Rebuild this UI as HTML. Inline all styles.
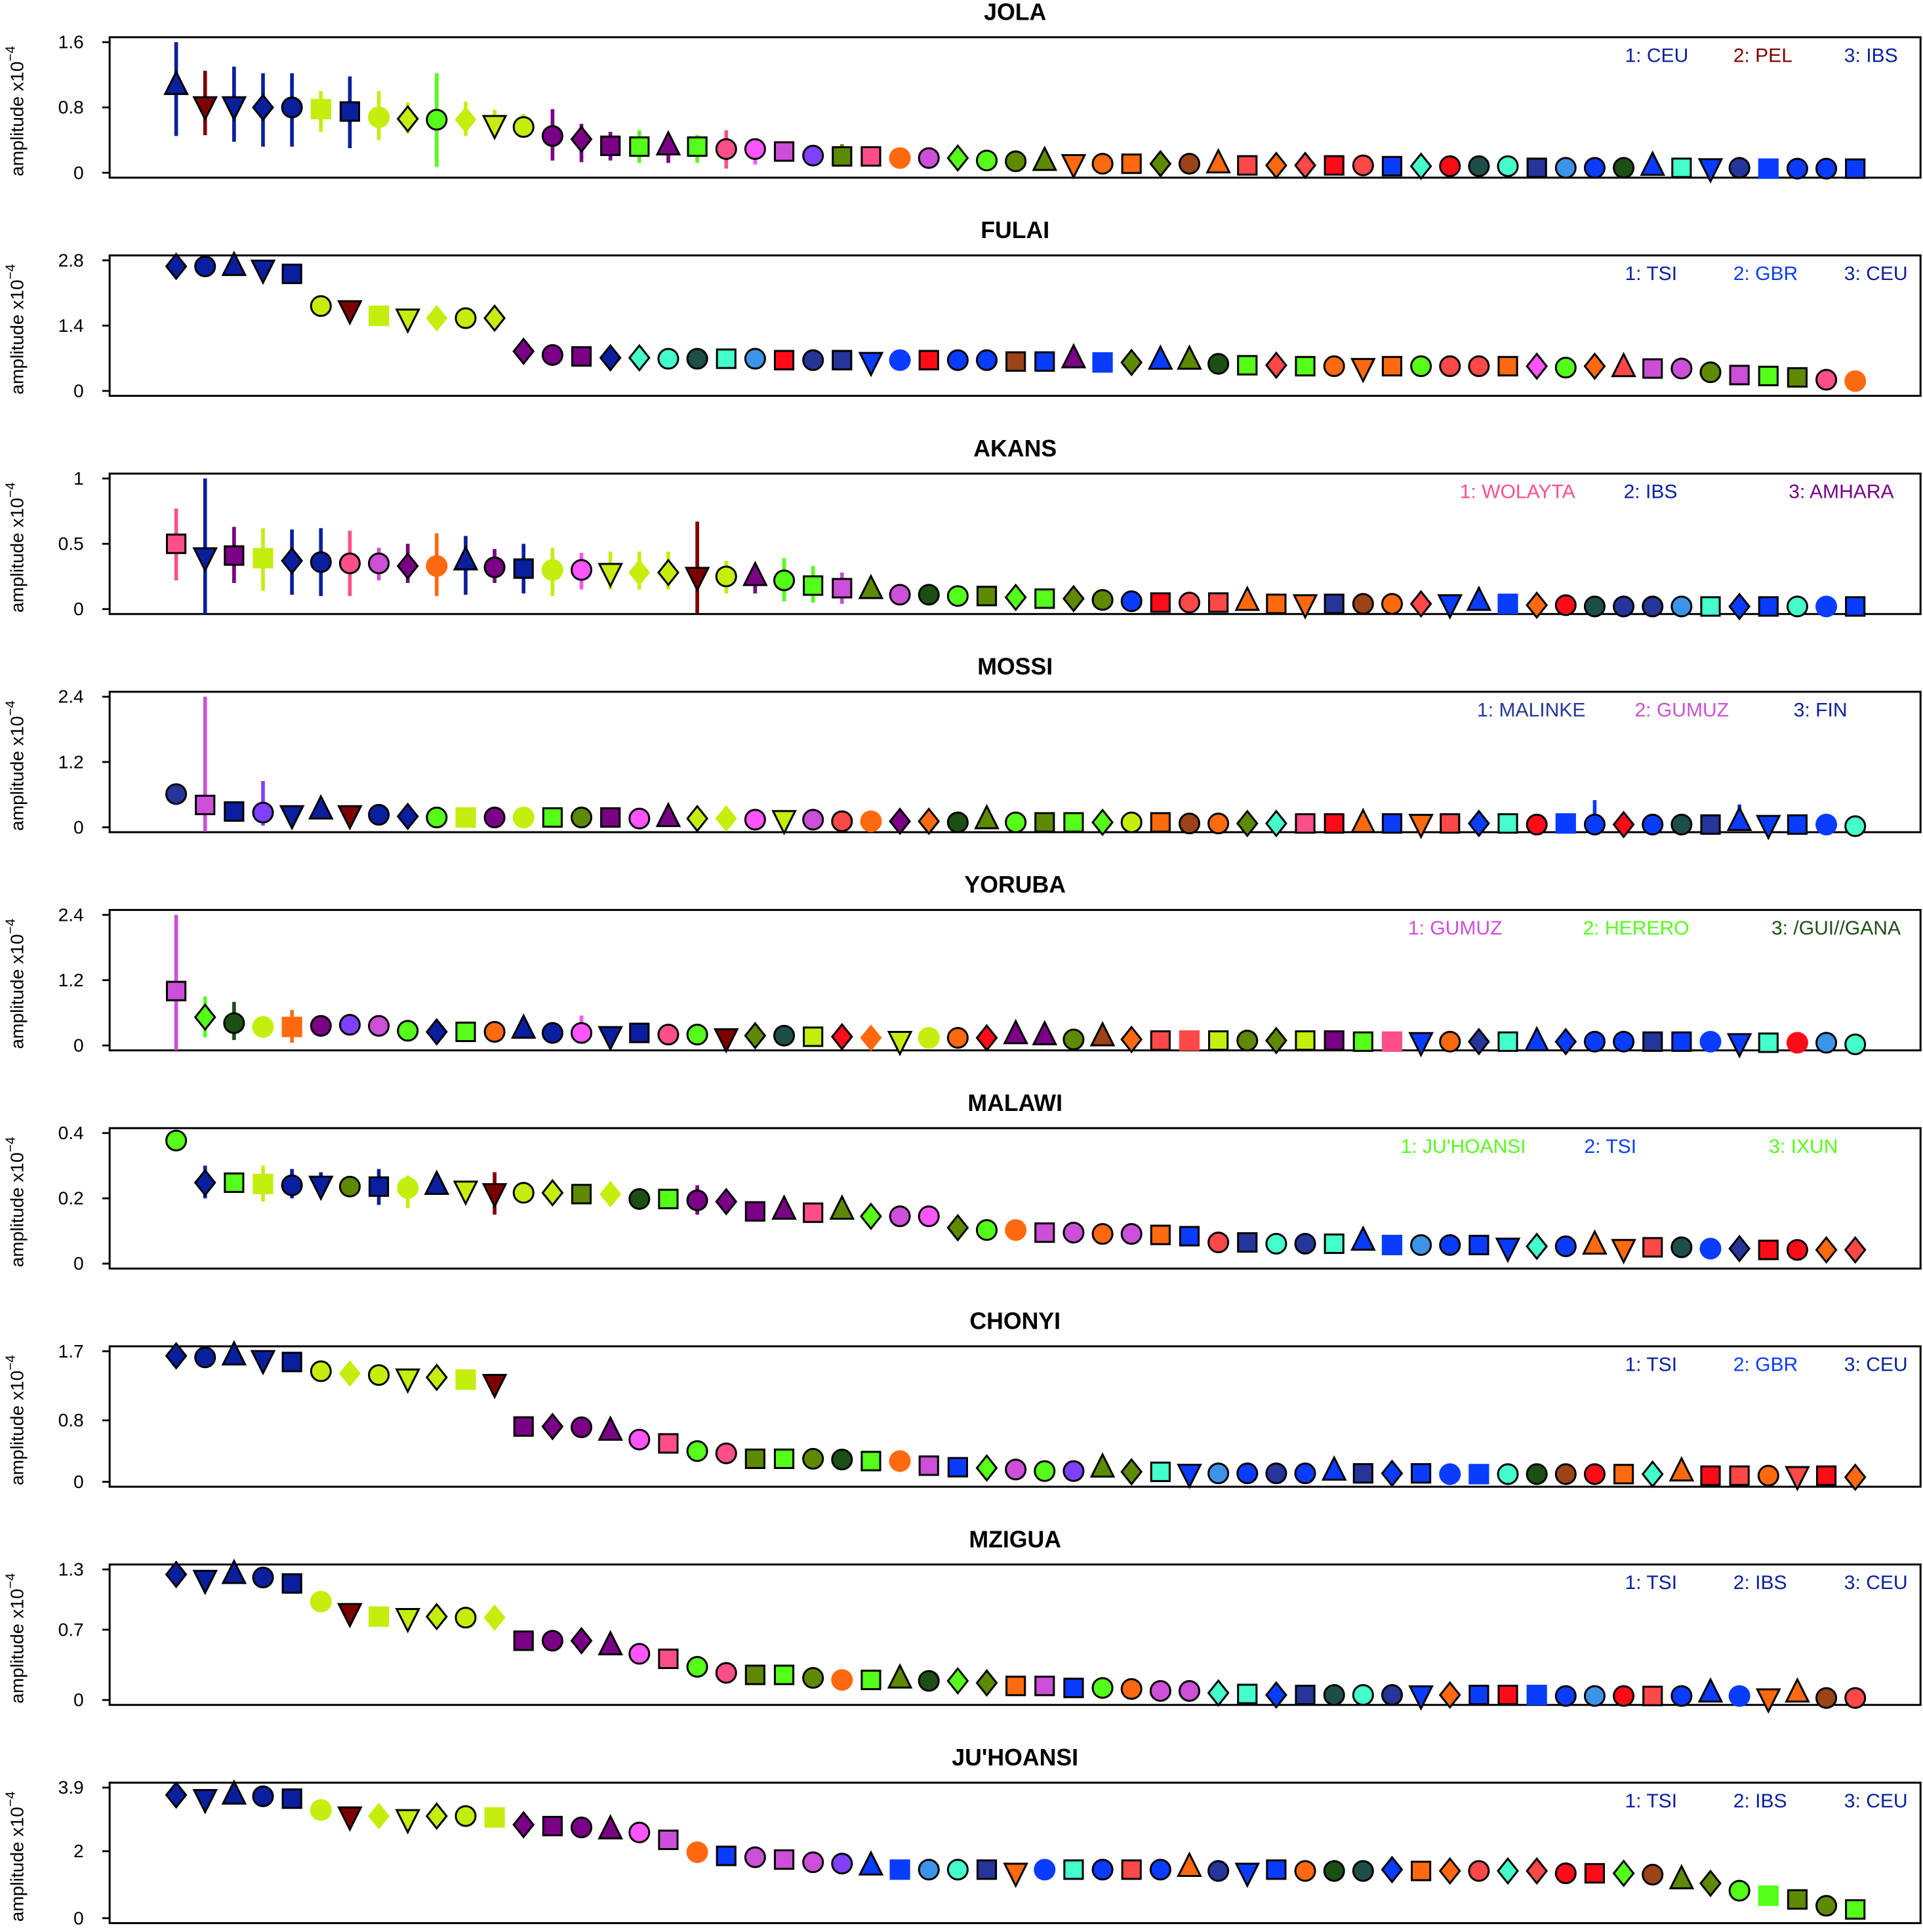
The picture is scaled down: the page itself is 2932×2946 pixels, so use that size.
<!DOCTYPE html>
<html><head><meta charset="utf-8"><style>
html,body{margin:0;padding:0;background:#fff}
svg{display:block}
text{font-family:"Liberation Sans",sans-serif}
</style></head><body>
<svg id="chart" xmlns="http://www.w3.org/2000/svg" width="2932" height="2946" viewBox="0 0 1561 1568"></svg>
<script>
const panelNames=["JOLA","FULAI","AKANS","MOSSI","YORUBA","MALAWI","CHONYI","MZIGUA","JU'HOANSI"];
const panelTicks=[[0,0.8,1.6],[0,1.4,2.8],[0,0.5,1],[0,1.2,2.4],[0,1.2,2.4],[0,0.2,0.4],[0,0.8,1.7],[0,0.7,1.3],[0,2,3.9]];
const legendTexts=[["1: CEU","2: PEL","3: IBS"],["1: TSI","2: GBR","3: CEU"],["1: WOLAYTA","2: IBS","3: AMHARA"],["1: MALINKE","2: GUMUZ","3: FIN"],["1: GUMUZ","2: HERERO","3: /GUI//GANA"],["1: JU'HOANSI","2: TSI","3: IXUN"],["1: TSI","2: GBR","3: CEU"],["1: TSI","2: IBS","3: CEU"],["1: TSI","2: IBS","3: CEU"]];
const legendColors=["NRN","NBN","KNP","IVN","VGH","GBG","NBN","NNN","NNN"];

const jolaVals=[1.07,.82,.82,.80,.80,.78,.75,.68,.66,.65,.65,.59,.56,.45,.41,.33,.32,.33,.32,.29,.29,.26,.21,.2,.2,.18,.18,.18,.15,.14,.14,.11,.11,.11,.11,.11,.11,.09,.09,.09,.09,.09,.08,.08,.08,.08,.08,.06,.06,.06,.06,.08,.06,.06,.06,.05,.05,.05,.05];
const jolaShapes="uvvdcSsCdcDvccdssusccscssCcdccuvcsdcusddscsdcccscccusvcSccs";
const jolaColors="NRNNNYNYYGYYYPPPGPGKMVXOKFVGGOOFFFOWFQFQEQBAEDAILBHBABIBBBB";
const jolaErrLo=[.45,.46,.38,.32,.32,.5,.3,.4,.48,.07,.45,.5,.45,.15,.13,.15,.12,.12,.12,.05,.1,null,.12,.08];
const jolaErrHi=[1.6,1.25,1.3,1.22,1.22,1.0,1.18,1.0,.86,1.22,.87,.77,.72,.78,.6,.5,.52,.45,.46,.52,.42,null,.3,.35];

const fulaiVals=[2.67,2.67,2.67,2.61,2.51,1.82,1.74,1.61,1.56,1.56,1.56,1.56,.85,.77,.74,.71,.71,.69,.69,.69,.69,.66,.66,.66,.63,.66,.66,.66,.66,.63,.63,.69,.61,.61,.66,.66,.58,.55,.55,.53,.53,.5,.53,.53,.53,.53,.53,.53,.5,.53,.5,.48,.48,.4,.34,.32,.29,.24,.21];
const fulaiShapes="dcuvscvSvDcddcsddccscscsvCsccssuSduucsdscvscccsdcdusccssscC";
const fulaiColors="NNNNNYRYYYYYPPPNAADALEIIBBEBBWBPBOBOHGQGFFFGQQFMGFQVVOVGOKF";
const fulaiErrLo=[];const fulaiErrHi=[];

const akansVals=[.5,.4,.41,.39,.37,.36,.35,.35,.33,.33,.37,.32,.31,.3,.3,.28,.28,.28,.25,.25,.25,.22,.18,.16,.15,.11,.11,.1,.1,.09,.08,.08,.07,.06,.05,.05,.05,.06,.04,.04,.04,.04,.04,.04,.04,.06,.04,.03,.03,.02,.02,.02,.02,.02,.02,.02,.02,.02,.02];
const akansShapes="svsSdcccdCucsCcvDdvcucssucccsdsdccscsusvsccdvuSdcccccsdscCs";
const akansColors="KNPYNNKVPFNPNYMYYYRYPGGVOVHGOGGOOBEQQFFFIWFQBBBFEDIILABBABB";
const akansErrLo=[.22,-.04,.2,.14,.11,.1,.1,.22,.2,.1,.11,.2,.12,.1,.15,.15,.15,.15,-.03,.12,.12,.06,.05,.04];
const akansErrHi=[.77,1.0,.63,.62,.61,.62,.6,.47,.5,.58,.56,.46,.5,.47,.43,.44,.44,.44,.67,.37,.34,.39,.33,.28];

const mossiVals=[.61,.41,.29,.27,.23,.32,.23,.23,.2,.18,.18,.18,.18,.18,.18,.18,.16,.18,.16,.16,.14,.14,.14,.11,.11,.11,.11,.09,.14,.09,.09,.09,.09,.09,.09,.07,.07,.07,.07,.07,.07,.07,.07,.07,.07,.07,.07,.05,.07,.05,.05,.05,.05,.05,.11,.05,.05,.05,.02];
const mossiShapes="csscvuvcdcScCscscudDcvccCddcucssdcsccddssusvsdscScdccsuvsCc";
const mossiColors="IVNXNNRNNGYPYGOPMPYYMYVQFPFHOGOGGYFWFOAKEFBFQBAEBBEBDIBBBBA";
const mossiErrLo=[null,-.08,null,.03];mossiErrLo[49]=0;mossiErrLo[54]=0;
const mossiErrHi=[null,2.4,null,.85];mossiErrHi[49]=.5;mossiErrHi[54]=.42;

const yorubaVals=[1.0,.52,.41,.34,.34,.36,.38,.36,.27,.25,.25,.25,.3,.23,.23,.18,.23,.2,.2,.14,.18,.18,.16,.16,.14,.09,.14,.14,.14,.2,.18,.11,.16,.11,.09,.09,.09,.09,.09,.09,.09,.07,.07,.07,.07,.07,.07,.07,.07,.07,.07,.07,.07,.07,.05,.05,.05,.05,.02];
const yorubaShapes="sdcCSccccdscuccvsccvdcsdDvCcduucudsSscdsssSvcdsudccssCvsCcc";
const yorubaColors="VGHYFPXVGNGFNNMNNKGRODYEFYYFEPPOWFQQYOOYPGKBFIABBBBIBBBAELA";
const yorubaErrLo=[-.1,.15,.1,.2,.05,.2];yorubaErrLo[14]=.05;
const yorubaErrHi=[2.4,.9,.8,.5,.65,.5];yorubaErrHi[14]=.55;

const malawiVals=[.377,.248,.248,.244,.24,.24,.236,.236,.232,.24,.225,.217,.217,.217,.213,.213,.198,.198,.194,.19,.16,.164,.156,.164,.145,.145,.145,.11,.103,.103,.095,.095,.091,.091,.088,.084,.065,.065,.061,.061,.061,.069,.057,.057,.057,.057,.05,.053,.053,.057,.046,.05,.05,.046,.046,.042,.042,.042,.042];
const malawiShapes="cdsScvcsCuvvcdsDcscdsusudccdcCscccsscsccsuSccsvdcuvscCdscdd";
const malawiColors="GNGYNNONYNYRYYOYHGPPPPKOGVMOGFVVFVFBQIAIABBLBBBABFFQDBIEEFQ";
const malawiErrLo=[null,.2,null,.19,.2,.21,null,.18,.17,null,.2,.15,.2,null,null,.19,null,null,.15,null,.14];
const malawiErrHi=[null,.3,null,.3,.29,.28,null,.29,.27,null,.25,.28,.25,null,null,.24,null,null,.24,null,.18];

const chonyiVals=[1.64,1.62,1.64,1.59,1.56,1.44,1.41,1.39,1.35,1.36,1.33,1.28,.72,.72,.71,.66,.55,.5,.4,.37,.3,.3,.3,.29,.27,.27,.21,.19,.18,.16,.14,.14,.18,.13,.13,.11,.11,.11,.11,.11,.14,.11,.11,.11,.1,.1,.1,.1,.1,.1,.1,.1,.13,.08,.08,.08,.08,.08,.06];
const chonyiShapes="dcuvscDcvdSvsdcucsccssccsCssdcccudsvccccusdsCSccccsdusscvsdd";
const chonyiColors="NNNNNYYYYYYRPPPPMKGKOGOHGFVBGVGXOOABLBIBBIBBBBAHWEFAFEQFQEF";
const chonyiErrLo=[];const chonyiErrHi=[];

const mziguaVals=[1.25,1.2,1.25,1.22,1.16,.98,.87,.83,.82,.83,.82,.82,.59,.59,.59,.54,.46,.41,.33,.27,.25,.25,.22,.2,.2,.21,.19,.19,.17,.14,.14,.12,.12,.11,.09,.09,.07,.06,.05,.05,.05,.05,.05,.05,.05,.05,.05,.05,.04,.04,.04,.04,.04,.07,.04,.02,.07,.02,.02];
const mziguaShapes="dvucsCvSvdcDscducsccsscCsucddsssccccdsdscccvdssScccscuCvucc";
const mziguaColors="NNNNNYRYYYYYPPPPMKGKOGOFGOHGOFVBGFVVAABIDAIBFBEBBLEQBBBFFWQ";
const mziguaErrLo=[];const mziguaErrHi=[];

const juVals=[3.68,3.57,3.68,3.64,3.57,3.23,3.05,3.05,2.97,3.05,3.05,3.01,2.79,2.75,2.71,2.64,2.56,2.34,1.97,1.86,1.82,1.75,1.67,1.63,1.56,1.45,1.45,1.45,1.45,1.37,1.45,1.45,1.45,1.45,1.45,1.52,1.41,1.37,1.45,1.41,1.41,1.41,1.45,1.41,1.41,1.41,1.41,1.41,1.34,1.34,1.34,1.3,1.15,1.04,.82,.67,.56,.37,.26];
const juShapes="dvucsCvDvdcSdscucsCscsccuSccsvCscscucvscccdsdcddcsdcudcSscs";
const juColors="NNNNNYRYYYYYPPPPMVFBVVVXBBLAIFBABQBFIBBFHDBFFQAQEEGWOOGGOOG";
const juErrLo=[];const juErrHi=[];

const allVals=[jolaVals,fulaiVals,akansVals,mossiVals,yorubaVals,malawiVals,chonyiVals,mziguaVals,juVals];
const allShapes=[jolaShapes,fulaiShapes,akansShapes,mossiShapes,yorubaShapes,malawiShapes,chonyiShapes,mziguaShapes,juShapes];
const allColors=[jolaColors,fulaiColors,akansColors,mossiColors,yorubaColors,malawiColors,chonyiColors,mziguaColors,juColors];
const allErrLo=[jolaErrLo,fulaiErrLo,akansErrLo,mossiErrLo,yorubaErrLo,malawiErrLo,chonyiErrLo,mziguaErrLo,juErrLo];
const allErrHi=[jolaErrHi,fulaiErrHi,akansErrHi,mossiErrHi,yorubaErrHi,malawiErrHi,chonyiErrHi,mziguaErrHi,juErrHi];

const PAL={N:"#0a1f9e",R:"#7d0000",Y:"#c3ee0e",G:"#55ff1a",O:"#5e8a00",P:"#7a0085",M:"#ff55ff",V:"#cc4fd8",K:"#ff4f88",F:"#ff6a10",E:"#ff0c18",B:"#0a3cff",L:"#3c94e8",A:"#44ffcc",D:"#1e4e48",H:"#1c4f14",W:"#9a4418",Q:"#ff4848",I:"#25359a",X:"#8040ff"};

const svg=document.getElementById('chart');
const NS="http://www.w3.org/2000/svg";
function mk(tag,attrs,parent){const e=document.createElementNS(NS,tag);for(const k in attrs)e.setAttribute(k,attrs[k]);(parent||svg).appendChild(e);return e;}
const X0=89,X1=1559,firstX=143,stepX=23.5;
function xPos(i){return firstX+i*stepX;}

panelNames.forEach((name,p)=>{
  const top=30+p*177.125, zeroY=top+110, maxY=top+4;
  const ticks=panelTicks[p], vmax=ticks[2];
  const yPos=v=>zeroY-(v/vmax)*(zeroY-maxY);
  const g=mk('g',{});
  
  
  const t=mk('text',{x:824,y:top-14,'text-anchor':'middle','font-size':19,'font-weight':'bold'},g);
  t.textContent=name;
  
  
  const box=mk('rect',{x:X0,y:top,width:X1-X0,height:114,fill:'none',stroke:'#000','stroke-width':1.6},g);
  
  
  ticks.forEach(v=>{
    const y=yPos(v);
    mk('line',{x1:X0-6,x2:X0,y1:y,y2:y,stroke:'#000','stroke-width':1.5},g);
    const tl=mk('text',{x:X0-21,y:y+5,'text-anchor':'end','font-size':15},g);
    tl.textContent=String(v);
    
    
  });
  const yl=mk('text',{transform:`translate(19,${top+60}) rotate(-90)`,'text-anchor':'middle','font-size':15},g);
  yl.innerHTML='amplitude x10<tspan dy="-7" font-size="11">−4</tspan>';
  
  
  const lx=(p===2)?[1185,1318,1452]:(p===3)?[1199,1327,1456]:(p===4)?[1143,1285,1438]:(p===5)?[1137,1286,1436]:[1319,1407,1497];
  legendTexts[p].forEach((s,k)=>{
    const lt=mk('text',{x:lx[k],y:top+20,'font-size':16,fill:PAL[legendColors[p][k]]},g);
    lt.textContent=s;
    
    
  });
  const vals=allVals[p],shapes=allShapes[p],cols=allColors[p],lo=allErrLo[p],hi=allErrHi[p];
  vals.forEach((v,i)=>{
    const x=xPos(i),y=yPos(v),c=PAL[cols[i]]||'#888';
    if(lo[i]!=null&&hi[i]!=null){
      const eb=mk('line',{x1:x,x2:x,y1:Math.min(yPos(lo[i]),top+114),y2:Math.max(yPos(hi[i]),top),stroke:c,'stroke-width':3},g);
      
      
    }
    const sh=shapes[i]||'c';
    const border=sh===sh.toLowerCase();
    const st=border?{stroke:'#000','stroke-width':1.6}:{stroke:'none'};
    const r=border?8:8.8;
    let m;
    switch(sh.toLowerCase()){
      case 's':m=mk('rect',Object.assign({x:x-r+0.5,y:y-r+0.5,width:2*r-1,height:2*r-1,fill:c},st),g);break;
      case 'd':m=mk('polygon',Object.assign({points:`${x},${y-r-2} ${x+r},${y} ${x},${y+r+2} ${x-r},${y}`,fill:c},st),g);break;
      case 'u':m=mk('polygon',Object.assign({points:`${x},${y-r-3} ${x+r+1},${y+r-1} ${x-r-1},${y+r-1}`,fill:c},st),g);break;
      case 'v':m=mk('polygon',Object.assign({points:`${x},${y+r+3} ${x+r+1},${y-r+1} ${x-r-1},${y-r+1}`,fill:c},st),g);break;
      default:m=mk('circle',Object.assign({cx:x,cy:y,r:r,fill:c},st),g);
    }
    
    
  });
});
</script>
</body></html>
